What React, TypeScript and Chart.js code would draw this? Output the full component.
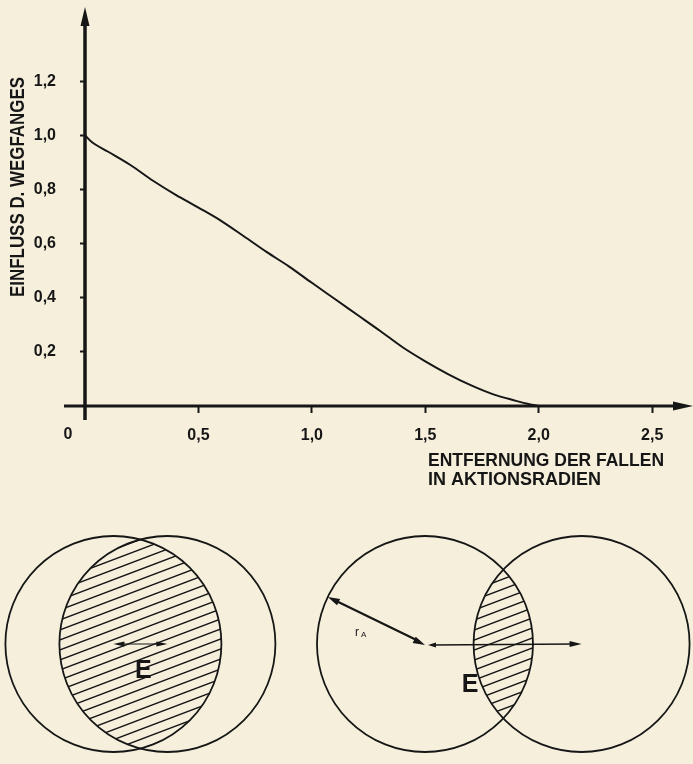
import React, { useEffect, useRef } from "react";
import { Chart, registerables } from "chart.js";

Chart.register(...registerables);

// ---- data ----
const distance = [0, 0.03, 0.1, 0.2, 0.3, 0.4, 0.5, 0.6, 0.7, 0.8, 0.9, 1.0, 1.1, 1.2, 1.3, 1.4, 1.5, 1.6, 1.7, 1.8, 1.9, 1.95, 2.0];
const influence = [1.0, 0.975, 0.94, 0.89, 0.832, 0.78, 0.733, 0.684, 0.627, 0.569, 0.515, 0.455, 0.396, 0.337, 0.278, 0.217, 0.165, 0.118, 0.077, 0.043, 0.019, 0.008, 0.0];
const xTickValues = [0.5, 1.0, 1.5, 2.0, 2.5];
const yTickValues = [0.2, 0.4, 0.6, 0.8, 1.0, 1.2];
const yTitle = "EINFLUSS D. WEGFANGES";
const xTitle = ["ENTFERNUNG DER FALLEN", "IN AKTIONSRADIEN"];
const originLabel = "0";
// diagram: two trap circles of one action radius, centre distances in action radii
const actionRadius = 1;
const centreDistances = [0.5, 1.45];
const overlapLabel = "E";
const radiusLabel = ["r", "A"];

const BG = "#f5efdc";
const INK = "#161616";
const FAMILY = '"Liberation Sans", Arial, sans-serif';

const fmt = (v: number) => Number(v).toFixed(1).replace(".", ",");

function arrowHead(ctx: CanvasRenderingContext2D, tx: number, ty: number, ang: number, len: number, hw: number) {
  const c = Math.cos(ang), s = Math.sin(ang);
  const bx = tx - len * c, by = ty - len * s;
  ctx.beginPath();
  ctx.moveTo(tx, ty);
  ctx.lineTo(bx - hw * s, by + hw * c);
  ctx.lineTo(bx + hw * s, by - hw * c);
  ctx.closePath();
  ctx.fill();
}

// draw text squeezed to a target width
function fitText(ctx: CanvasRenderingContext2D, text: string, x: number, y: number, width: number) {
  const w = ctx.measureText(text).width;
  const k = Math.min(1, width / w);
  ctx.save();
  ctx.translate(x, y);
  ctx.scale(k, 1);
  ctx.fillText(text, 0, 0);
  ctx.restore();
}

export default function App() {
  const topRef = useRef<HTMLCanvasElement>(null);
  const bottomRef = useRef<HTMLCanvasElement>(null);

  useEffect(() => {
    document.body.style.margin = "0";
    document.body.style.background = BG;

    const axesPlugin = {
      id: "axesArrows",
      afterDraw(chart: any) {
        const { ctx } = chart;
        const xs = chart.scales.x, ys = chart.scales.y;
        const x0 = xs.getPixelForValue(0);
        const y0 = ys.getPixelForValue(0);
        const top = chart.chartArea.top;
        const right = chart.chartArea.right;
        ctx.save();
        ctx.strokeStyle = INK;
        ctx.fillStyle = INK;
        // y axis with arrow
        ctx.lineWidth = 3.5;
        ctx.beginPath();
        ctx.moveTo(x0, y0 + 14);
        ctx.lineTo(x0, top + 12);
        ctx.stroke();
        arrowHead(ctx, x0, top - 1, -Math.PI / 2, 19, 4.5);
        // x axis with arrow
        ctx.lineWidth = 3;
        ctx.beginPath();
        ctx.moveTo(x0 - 21, y0);
        ctx.lineTo(right - 12, y0);
        ctx.stroke();
        arrowHead(ctx, right, y0, 0, 20, 4.5);
        // origin label
        ctx.font = `bold 16px ${FAMILY}`;
        ctx.textAlign = "center";
        ctx.textBaseline = "middle";
        ctx.fillText(originLabel, x0 - 17, y0 + 29);
        // y title
        ctx.save();
        ctx.translate(18, 187);
        ctx.rotate(-Math.PI / 2);
        ctx.font = `bold 20px ${FAMILY}`;
        ctx.textAlign = "left";
        const yw = Math.min(ctx.measureText(yTitle).width, 220);
        fitText(ctx, yTitle, -yw / 2, 0, 220);
        ctx.restore();
        // x title
        ctx.textAlign = "left";
        ctx.font = `bold 18px ${FAMILY}`;
        fitText(ctx, xTitle[0], 428, 461, 236);
        fitText(ctx, xTitle[1], 428, 480, 236 * (xTitle[1].length / xTitle[0].length) * 1.05);
        ctx.restore();
      },
    };

    const plot = new Chart(topRef.current!, {
      type: "line",
      data: {
        datasets: [
          {
            data: distance.map((x, i) => ({ x, y: influence[i] })),
            borderColor: INK,
            borderWidth: 2,
            pointRadius: 0,
            fill: false,
            cubicInterpolationMode: "monotone",
          },
        ],
      },
      options: {
        responsive: false,
        animation: false,
        layout: { padding: { top: 8, left: 0, right: 0, bottom: 0 } },
        plugins: { legend: { display: false }, tooltip: { enabled: false } },
        scales: {
          x: {
            type: "linear",
            min: 0,
            max: 2.68,
            afterBuildTicks: (s: any) => {
              s.ticks = xTickValues.map((v) => ({ value: v }));
            },
            afterFit: (s: any) => {
              s.height = 94;
              s.paddingLeft = 0;
              s.paddingRight = 0;
            },
            grid: { drawOnChartArea: false, drawTicks: true, tickLength: 7, tickWidth: 2, tickColor: INK },
            border: { display: false },
            ticks: {
              color: INK,
              padding: 13,
              maxRotation: 0,
              autoSkip: false,
              font: { family: FAMILY, size: 16, weight: "bold" },
              callback: (v: any) => fmt(v),
            },
          },
          y: {
            type: "linear",
            min: 0,
            max: 1.47,
            afterBuildTicks: (s: any) => {
              s.ticks = yTickValues.map((v) => ({ value: v }));
            },
            afterFit: (s: any) => {
              s.width = 85;
              s.paddingTop = 0;
              s.paddingBottom = 0;
            },
            grid: { drawOnChartArea: false, drawTicks: true, tickLength: 5, tickWidth: 2, tickColor: INK },
            border: { display: false },
            ticks: {
              color: INK,
              padding: 24,
              autoSkip: false,
              font: { family: FAMILY, size: 16, weight: "bold" },
              callback: (v: any) => fmt(v),
            },
          },
        },
      },
      plugins: [axesPlugin],
    } as any);

    // layout of the diagram (in action radii)
    const origins = [1.05, 3.935];
    const centreY = 1.111;

    const diagramPlugin = {
      id: "overlapDiagram",
      afterDraw(chart: any) {
        const { ctx } = chart;
        const xs = chart.scales.x, ys = chart.scales.y;
        const unit = xs.getPixelForValue(1) - xs.getPixelForValue(0);
        const R = actionRadius * unit;
        ctx.save();
        ctx.strokeStyle = INK;
        ctx.fillStyle = INK;
        centreDistances.forEach((d, i) => {
          const ax = xs.getPixelForValue(origins[i]);
          const ay = ys.getPixelForValue(centreY);
          const bx = xs.getPixelForValue(origins[i] + d);
          const by = ay;
          // hatching of the overlap
          ctx.save();
          ctx.beginPath();
          ctx.arc(ax, ay, R, 0, Math.PI * 2);
          ctx.clip();
          ctx.beginPath();
          ctx.arc(bx, by, R, 0, Math.PI * 2);
          ctx.clip();
          ctx.lineWidth = 1.4;
          ctx.beginPath();
          const slope = 0.38, gap = 10;
          const l = bx - R - 10, r = ax + R + 10;
          for (let k = -40; k <= 40; k++) {
            const c = ay + 60 + k * gap;
            ctx.moveTo(l, c);
            ctx.lineTo(r, c - slope * (r - l));
          }
          ctx.stroke();
          ctx.restore();
          // circles
          ctx.lineWidth = 1.8;
          ctx.beginPath();
          ctx.arc(ax, ay, R, 0, Math.PI * 2);
          ctx.stroke();
          ctx.beginPath();
          ctx.arc(bx, by, R, 0, Math.PI * 2);
          ctx.stroke();

          ctx.font = `bold 25px ${FAMILY}`;
          ctx.textAlign = "center";
          ctx.textBaseline = "middle";
          if (i === 0) {
            ctx.lineWidth = 1.2;
            ctx.beginPath();
            ctx.moveTo(ax + 4, ay);
            ctx.lineTo(bx - 4, by);
            ctx.stroke();
            arrowHead(ctx, ax, ay, Math.PI, 11, 2.6);
            arrowHead(ctx, bx, by, 0, 11, 2.6);
            ctx.fillText(overlapLabel, ax + 30, ay + 27);
          } else {
            const th = Math.atan2(-47, -97);
            const ex = ax + R * Math.cos(th), ey = ay + R * Math.sin(th);
            ctx.lineWidth = 2.2;
            ctx.beginPath();
            ctx.moveTo(ex - 6 * Math.cos(th), ey - 6 * Math.sin(th));
            ctx.lineTo(ax + 6 * Math.cos(th), ay + 6 * Math.sin(th));
            ctx.stroke();
            arrowHead(ctx, ex, ey, th, 12, 3.5);
            arrowHead(ctx, ax, ay + 1, th + Math.PI, 12, 3.5);
            ctx.lineWidth = 1.3;
            ctx.beginPath();
            ctx.moveTo(ax + 6, ay + 1);
            ctx.lineTo(bx - 6, by);
            ctx.stroke();
            arrowHead(ctx, ax + 3, ay + 1, Math.PI, 8, 2.6);
            arrowHead(ctx, bx, by, 0, 12, 3);
            ctx.fillText(overlapLabel, ax + 45, ay + 41);
            ctx.textAlign = "left";
            ctx.font = `12px ${FAMILY}`;
            ctx.fillText(radiusLabel[0], ax - 70, ay - 11);
            ctx.font = `8px ${FAMILY}`;
            ctx.fillText(radiusLabel[1], ax - 64, ay - 9);
          }
        });
        ctx.restore();
      },
    };

    const diagram = new Chart(bottomRef.current!, {
      type: "scatter",
      data: {
        datasets: [
          {
            data: centreDistances.flatMap((d, i) => [
              { x: origins[i], y: centreY },
              { x: origins[i] + d, y: centreY },
            ]),
            pointRadius: 0,
          },
        ],
      },
      options: {
        responsive: false,
        animation: false,
        layout: { padding: 0 },
        plugins: { legend: { display: false }, tooltip: { enabled: false } },
        scales: {
          x: { type: "linear", display: false, min: 0, max: 693 / 108 },
          y: { type: "linear", display: false, min: 0, max: 264 / 108 },
        },
      },
      plugins: [diagramPlugin],
    } as any);

    return () => {
      plot.destroy();
      diagram.destroy();
    };
  }, []);

  return (
    <div style={{ position: "absolute", left: 0, top: 0, width: 693, height: 764, background: BG, overflow: "hidden" }}>
      <canvas ref={topRef} width={693} height={500} style={{ position: "absolute", left: 0, top: 0 }} />
      <canvas ref={bottomRef} width={693} height={264} style={{ position: "absolute", left: 0, top: 500 }} />
    </div>
  );
}
